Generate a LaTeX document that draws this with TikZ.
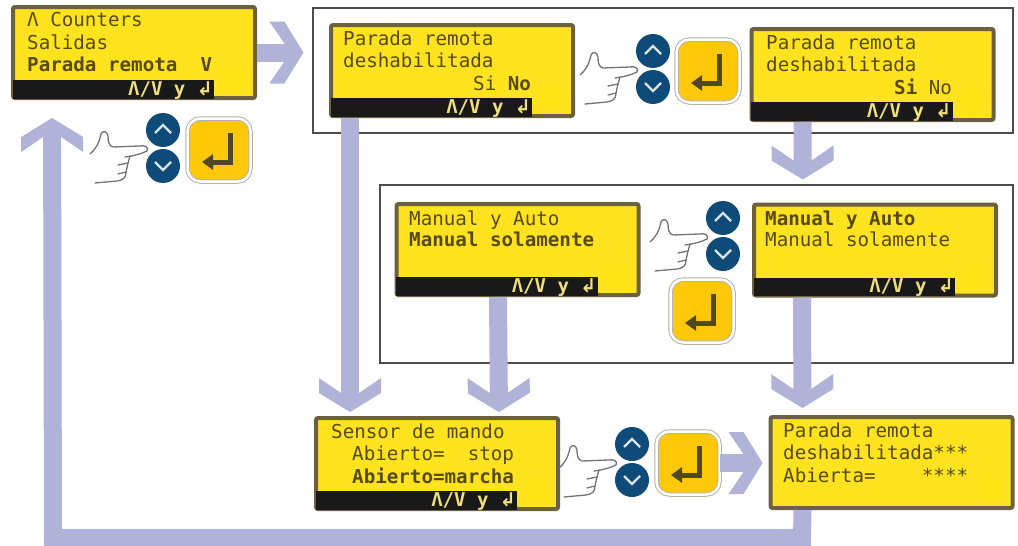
\documentclass[tikz,border=0pt]{standalone}
\usepackage{fontspec}
\newfontfamily\lcdfont{DejaVu Sans Mono}
\newfontfamily\retfont{DejaVu Sans}
\usetikzlibrary{arrows.meta}

\pgfdeclarearrow{
  name=Chevron,
  setup code={
    \pgfarrowssettipend{0pt}
    \pgfarrowssetlineend{-14pt}
    \pgfarrowssetvisualbackend{-34pt}
    \pgfarrowssetbackend{-34pt}
  },
  drawing code={
    \pgfpathmoveto{\pgfpoint{0pt}{0pt}}
    \pgfpathlineto{\pgfpoint{-19pt}{31pt}}
    \pgfpathlineto{\pgfpoint{-34pt}{31pt}}
    \pgfpathlineto{\pgfpoint{-19pt}{9pt}}
    \pgfpathlineto{\pgfpoint{-19pt}{-9pt}}
    \pgfpathlineto{\pgfpoint{-34pt}{-31pt}}
    \pgfpathlineto{\pgfpoint{-19pt}{-31pt}}
    \pgfpathclose
    \pgfusepathqfill
  }
}

\definecolor{lcdfill}{HTML}{FFE31E}
\definecolor{lcdrim}{HTML}{6B6040}
\definecolor{lcdink}{HTML}{574A10}
\definecolor{bartext}{HTML}{EFE07A}
\definecolor{flowblue}{HTML}{B0B2D8}
\definecolor{roundkey}{HTML}{0F4B78}
\definecolor{keyface}{HTML}{FFC90A}
\definecolor{keyrim}{HTML}{B9B2A0}

\begin{document}
\begin{tikzpicture}
  [x=1pt,y=-1pt,
   framebox/.style={draw=black!70,line width=1.2pt,inner sep=0},
   screen/.style={draw=lcdrim,fill=lcdfill,line width=4pt,rounded corners=2pt,
     minimum width=242pt,minimum height=91pt,inner sep=0},
   lcdtext/.style={anchor=north west,align=left,inner sep=0,text=lcdink,
     font=\lcdfont\fontsize{19.2}{22.5}\selectfont},
   bartxt/.style={anchor=base east,inner sep=0,text=bartext,font=\lcdfont\bfseries\fontsize{19}{20}\selectfont},
   enterkey/.style={draw=keyrim,double=white,double distance=2.5pt,line width=1pt,fill=keyface,
     rounded corners=13pt,minimum size=63pt,inner sep=0},
   enterline/.style={draw=lcdink!70!black!90,line width=5pt},
   handline/.style={draw=black!55,line width=1.3pt,line cap=round},
   flow/.style={draw=flowblue,line width=18pt,-Chevron}]

  \useasboundingbox (0,0) rectangle (1018,546);
  \fill[white] (0,0) rectangle (1018,546);

  \node (frmOne) [framebox,minimum width=700pt,minimum height=125pt] at (663,70.5) {};
  \node (frmTwo) [framebox,minimum width=633pt,minimum height=178pt] at (696.5,274) {};

  % displays
  \foreach \name/\x/\y in {scrA/134/52.5,scrB/452/70.5,scrC/872.5/74.5,scrD/517.5/249.5,scrE/875/250,scrF/437/463.5,scrG/891.5/462.5} {
    \node (\name) [screen] at (\x,\y) {};
    \fill[yellow!35!lcdfill] ([shift={(-24,-21)}]\name.south east) circle (13);
  }
  \foreach \name in {scrA,scrB,scrC,scrD,scrE,scrF} {
    \fill[black!90] ([shift={(1.5,-1.5)}]\name.south west) rectangle ([shift={(-43,-20)}]\name.south east);
    \node (bar\name) [bartxt] at ([shift={(-44,-5)}]\name.south east) {Λ/V y {\retfont\bfseries ↲}};
  }

  \node (txtA) [lcdtext] at (27,12.5) {Λ Counters\\Salidas\\\textbf{Parada remota~~V}};
  \node (txtB) [lcdtext] at (343,30.5) {Parada remota\\deshabilitada\\\hspace*{130pt}Si \textbf{No}};
  \node (txtC) [lcdtext] at (766,34.5) {Parada remota\\deshabilitada\\\hspace*{128pt}\textbf{Si} No};
  \node (txtD) [lcdtext,font=\lcdfont\fontsize{19.2}{21}\selectfont] at (409,210.5) {Manual y Auto\\\textbf{Manual solamente}};
  \node (txtE) [lcdtext,font=\lcdfont\fontsize{19.2}{21}\selectfont] at (765,210.5) {\textbf{Manual y Auto}\\Manual solamente};
  \node (txtF) [lcdtext] at (331,423.5) {Sensor de mando\\\hspace*{21pt}Abierto=~~stop\\\hspace*{21pt}\textbf{Abierto=marcha}};
  \node (txtG) [lcdtext] at (783,422.5) {Parada remota\\deshabilitada***\\Abierta=~~~~****};

  % up and down buttons with the hand
  \foreach \x/\y in {163/148,653/69,723/236,632/462} {
    \begin{scope}[shift={(\x,\y)}]
      \fill[roundkey] (0,-18) circle (17) (0,18) circle (17);
      \draw[white!85!roundkey,line width=2.4pt] (-8,-15) -- (0,-23) -- (8,-15);
      \draw[white!85!roundkey,line width=2.4pt] (-8,14) -- (0,22) -- (8,14);
      \draw[handline] (-73,6) .. controls (-68,2) and (-64,-4) .. (-62,-14)
        .. controls (-60,-18) and (-56,-17) .. (-55,-12)
        .. controls (-55,-6) and (-54,-2) .. (-50,-1) -- (-24,-2)
        .. controls (-18,-3) and (-14,-1) .. (-16,3)
        .. controls (-22,6) and (-30,8) .. (-38,9);
      \draw[handline] (-33,8) -- (-35,15) -- (-45,17);
      \draw[handline] (-35,15) -- (-37,24) -- (-45,26);
      \draw[handline] (-37,24) .. controls (-37,30) and (-40,32) .. (-46,33) -- (-68,35);
    \end{scope}
  }

  % enter keys
  \foreach \name/\x/\y in {keyA/219/150,keyB/708/71,keyD/702/311,keyF/688/463} {
    \node (\name) [enterkey] at (\x,\y) {};
    \begin{scope}[shift={(\x,\y)}]
      \draw[enterline,-{Triangle[length=11pt,width=15pt]}] (11,-17) -- (11,12) -- (-17,12);
    \end{scope}
  }

  % flow between the displays
  \draw[flow,shorten >=9pt] (scrA.east) -- (scrA.east -| frmOne.west);
  \draw[flow,shorten >=23pt] ([xshift=53]scrC.south west) -- ([xshift=51]scrE.north west);
  \draw[flow,shorten >=4pt] ([xshift=21]scrB.south west) -- ([xshift=36]scrF.north west);
  \draw[flow,shorten >=4pt] ([xshift=103.5]scrD.south west) -- ([xshift=185]scrF.north west);
  \draw[flow,shorten >=7pt] ([xshift=50]scrE.south west) -- ([xshift=34]scrG.north west);
  \draw[flow,shorten >=6pt] (keyF.east) -- (keyF.east -| scrG.west);
  \coordinate (loopa) at (802,538);
  \coordinate (loopb) at (53,538);
  \draw[flow,shorten >=18pt] ([xshift=34]scrG.south west) -- (loopa) -- (loopb) -- ([xshift=41]scrA.south west);

\end{tikzpicture}
\end{document}
